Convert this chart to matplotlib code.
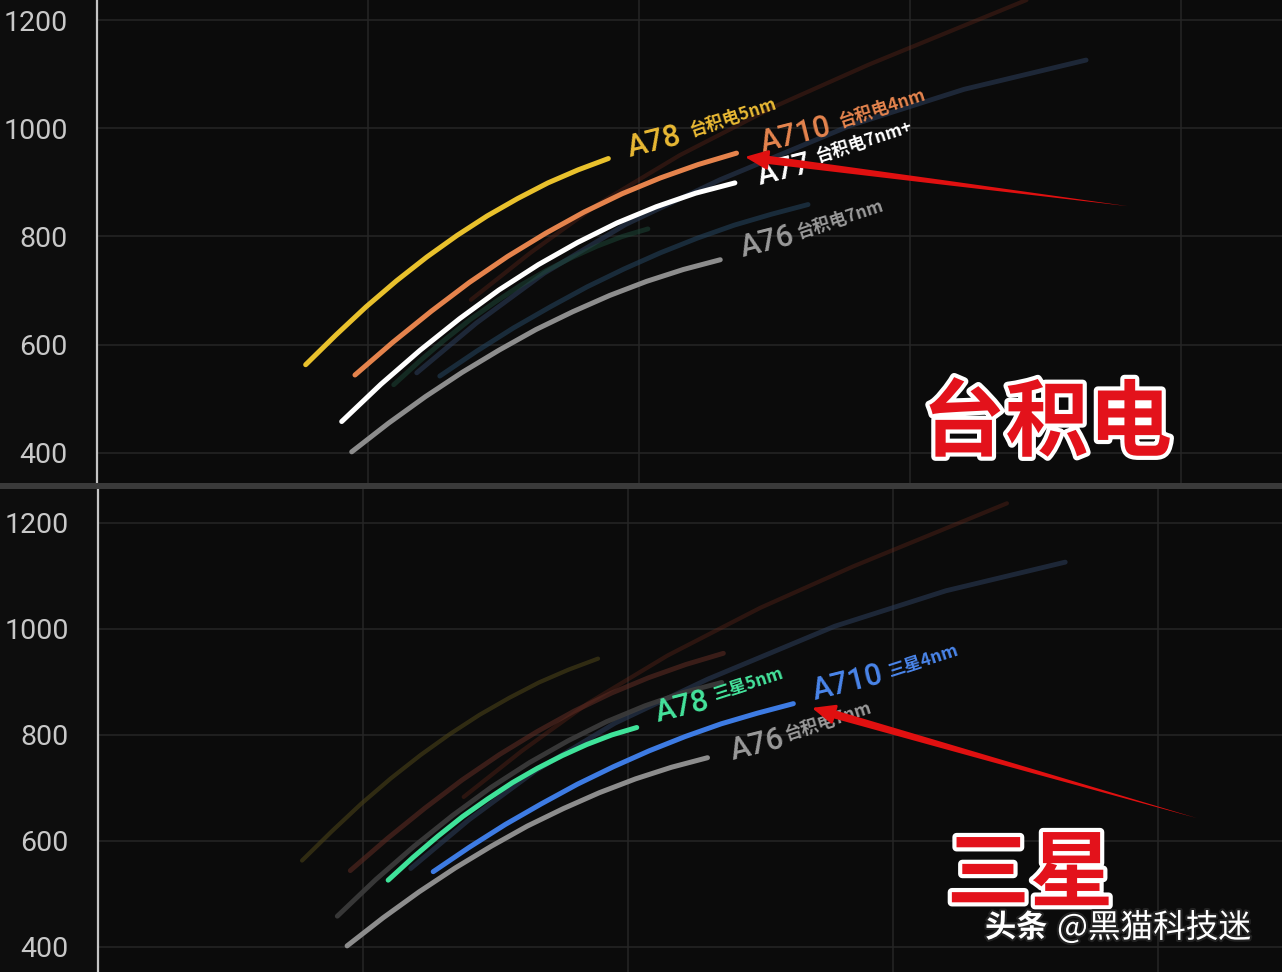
import matplotlib.pyplot as plt
import matplotlib.patheffects as pe
from matplotlib.patches import Rectangle

plt.rcParams['font.family'] = ['Roboto', 'Noto Sans CJK SC', 'DejaVu Sans']

# 曲线数据 (x 为功耗刻度, y 为性能分数)
tsmc_a78_x = [0.770, 0.882, 0.993, 1.105, 1.217, 1.329, 1.440, 1.552, 1.664, 1.775, 1.887]
tsmc_a78_y = [563, 618, 670, 718, 762, 802, 838, 870, 899, 923, 944]
tsmc_a710_x = [0.952, 1.093, 1.234, 1.374, 1.515, 1.656, 1.797, 1.938, 2.078, 2.219, 2.360]
tsmc_a710_y = [544, 605, 662, 715, 763, 806, 845, 879, 908, 933, 954]
tsmc_a77_x = [0.903, 1.048, 1.193, 1.338, 1.483, 1.629, 1.774, 1.919, 2.064, 2.209, 2.354]
tsmc_a77_y = [458, 527, 590, 648, 701, 748, 789, 825, 855, 880, 899]
tsmc_a76_x = [0.940, 1.076, 1.212, 1.348, 1.484, 1.620, 1.756, 1.892, 2.028, 2.164, 2.300]
tsmc_a76_y = [402, 455, 504, 549, 590, 628, 661, 691, 717, 739, 757]
sam_a78_x = [1.095, 1.189, 1.283, 1.376, 1.470, 1.564, 1.658, 1.752, 1.845, 1.939, 2.033]
sam_a78_y = [526, 569, 609, 646, 679, 710, 737, 761, 782, 800, 814]
sam_a710_x = [1.265, 1.401, 1.537, 1.673, 1.809, 1.945, 2.080, 2.216, 2.352, 2.488, 2.624]
sam_a710_y = [542, 588, 631, 670, 707, 740, 770, 797, 821, 841, 859]
# 背景里的淡色曲线
ghost_blue_x = [1.18, 1.40, 1.65, 1.95, 2.30, 2.78, 3.20, 3.65]
ghost_blue_y = [548, 640, 732, 822, 905, 1005, 1072, 1126]
ghost_red_x = [1.38, 1.60, 1.85, 2.15, 2.50, 2.85, 3.43]
ghost_red_y = [683, 770, 860, 950, 1040, 1118, 1237]

y_ticks = [400, 600, 800, 1000, 1200]
x_grid = [1, 2, 3, 4]

BG = '#0b0b0b'
fig = plt.figure(figsize=(12.82, 9.72), dpi=100, facecolor='#0d0d0d')
ax1 = fig.add_axes([97 / 1282, 489 / 972, 1185 / 1282, 483 / 972])
ax2 = fig.add_axes([98 / 1282, 0, 1184 / 1282, 483 / 972])
fig.patches.append(Rectangle((0, 483 / 972), 1, 6 / 972, transform=fig.transFigure,
                             facecolor='#3a3a3a', edgecolor='none'))

ax1.set_xlim(0, 4.373)
ax1.set_ylim(344.4, 1237)
ax2.set_xlim(0, 4.468)
ax2.set_ylim(352.7, 1264)

for ax in (ax1, ax2):
    ax.set_facecolor(BG)
    for s in ('top', 'right', 'bottom'):
        ax.spines[s].set_visible(False)
    ax.spines['left'].set_color('#c4c4c4')
    ax.spines['left'].set_linewidth(1.6)
    ax.set_yticks(y_ticks)
    ax.set_xticks(x_grid)
    ax.set_xticklabels([])
    ax.tick_params(axis='both', length=0, pad=21, labelsize=20.5, labelcolor='#c8c8c8')
    ax.grid(True, color='#262626', linewidth=1.1)
    ax.set_axisbelow(True)


def curve(ax, x, y, color, lw=3.6, alpha=1.0, z=3):
    ax.plot(x, y, color=color, lw=lw, alpha=alpha, solid_capstyle='round',
            solid_joinstyle='round', zorder=z)


# 上图: 台积电
curve(ax1, ghost_red_x, ghost_red_y, '#6a2a1a', lw=3, alpha=0.35, z=2)
curve(ax1, ghost_blue_x, ghost_blue_y, '#2a3a55', lw=3.5, alpha=0.6, z=2)
curve(ax1, sam_a710_x, sam_a710_y, '#23415a', lw=3.5, alpha=0.6, z=2)
curve(ax1, sam_a78_x, sam_a78_y, '#1d4a3a', lw=3.5, alpha=0.5, z=2)
curve(ax1, tsmc_a78_x, tsmc_a78_y, '#e9c12c')
curve(ax1, tsmc_a710_x, tsmc_a710_y, '#e5834c')
curve(ax1, tsmc_a77_x, tsmc_a77_y, '#ffffff')
curve(ax1, tsmc_a76_x, tsmc_a76_y, '#8d8d8d')

# 下图: 三星
curve(ax2, ghost_red_x, ghost_red_y, '#6a2a1a', lw=3, alpha=0.35, z=2)
curve(ax2, ghost_blue_x, ghost_blue_y, '#2a3a55', lw=3.5, alpha=0.6, z=2)
curve(ax2, tsmc_a78_x, tsmc_a78_y, '#4a4218', lw=3, alpha=0.6, z=2)
curve(ax2, tsmc_a710_x, tsmc_a710_y, '#5a2a22', lw=3.5, alpha=0.6, z=2)
curve(ax2, tsmc_a77_x, tsmc_a77_y, '#3c3c3c', lw=3.5, alpha=0.9, z=2)
curve(ax2, tsmc_a76_x, tsmc_a76_y, '#8d8d8d')
curve(ax2, sam_a710_x, sam_a710_y, '#3d7be3')
curve(ax2, sam_a78_x, sam_a78_y, '#3fe39a')

ROT_BIG, ROT_SMALL = 14, 18
CJK = ['Noto Sans CJK SC', 'DejaVu Sans']


def label(ax, xy_big, xy_small, name, sub, color, subcolor=None):
    ax.text(*xy_big, name, color=color, fontsize=22, rotation=ROT_BIG,
            rotation_mode='anchor', ha='left', va='baseline', zorder=5,
            family=['Roboto', 'DejaVu Sans'], fontweight='medium')
    ax.text(*xy_small, sub, color=subcolor or color, fontsize=12.5, rotation=ROT_SMALL,
            rotation_mode='anchor', ha='left', va='baseline', zorder=5,
            family=CJK, fontweight='bold')


label(ax1, (1.967, 946), (2.195, 985), 'A78', '台积电5nm', '#e9b934')
label(ax1, (2.458, 956), (2.745, 1002), 'A710', '台积电4nm', '#e5844e')
label(ax1, (2.446, 895), (2.660, 937), 'A77', '台积电7nm+', '#ffffff')
label(ax1, (2.384, 762), (2.590, 797), 'A76', '台积电7nm', '#9a9a9a')

label(ax2, (2.113, 824), (2.330, 866), 'A78', '三星5nm', '#45e39c')
label(ax2, (2.706, 866), (2.990, 909), 'A710', '三星4nm', '#4a85ea')
label(ax2, (2.396, 753), (2.600, 790), 'A76', '台积电7nm', '#9a9a9a')

# 红色箭头
arrow_top = {'tail': (3.804, 856), 'head': (2.391, 947)}
arrow_bottom = {'tail': (4.147, 643), 'head': (2.694, 851)}
for ax, arr in ((ax1, arrow_top), (ax2, arrow_bottom)):
    hx, hy = arr['head']
    tx, ty = arr['tail']
    ax.annotate('', xy=arr['tail'], xytext=(hx + (tx - hx) * 0.04, hy + (ty - hy) * 0.04),
                arrowprops=dict(arrowstyle='wedge,tail_width=0.6,shrink_factor=0.55',
                                color='#e01010', lw=0, shrinkA=0, shrinkB=0), zorder=6)
    ax.annotate('', xy=arr['head'], xytext=(hx + (tx - hx) * 0.07, hy + (ty - hy) * 0.07),
                arrowprops=dict(arrowstyle='-|>,head_length=1.4,head_width=0.6',
                                color='#e01010', lw=2, shrinkA=0, shrinkB=0), zorder=6)

outline = [pe.withStroke(linewidth=6, foreground='white')]
ax1.text(3.506, 452, '台积电', color='#e3121b', fontsize=60, fontweight='bold',
         family=CJK, ha='center', va='center', path_effects=outline, zorder=7)
ax2.text(3.517, 535, '三星', color='#e3121b', fontsize=60, fontweight='bold',
         family=CJK, ha='center', va='center', path_effects=outline, zorder=7)

shadow = [pe.withStroke(linewidth=3, foreground='#222222')]
fig.text(985 / 1282, 1 - 928 / 972, '头条', color='white', fontsize=22.5, fontweight='bold',
         family=CJK, ha='left', va='center', path_effects=shadow, zorder=8)
fig.text(1057 / 1282, 1 - 928 / 972, '@黑猫科技迷', color='white', fontsize=23.5,
         family=CJK, ha='left', va='center', path_effects=shadow, zorder=8)

fig.savefig('out.png', dpi=100, facecolor=fig.get_facecolor())
